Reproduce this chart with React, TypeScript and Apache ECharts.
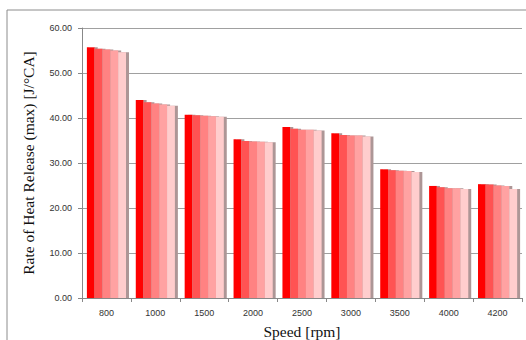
import React, { useEffect, useRef } from "react";
import * as echarts from "echarts";

const categories = ["800", "1000", "1500", "2000", "2500", "3000", "3500", "4000", "4200"];
const series1 = [55.7, 44.0, 40.7, 35.3, 38.0, 36.6, 28.6, 24.9, 25.3];
const series2 = [55.4, 43.5, 40.6, 34.9, 37.6, 36.2, 28.4, 24.6, 25.2];
const series3 = [55.2, 43.2, 40.5, 34.8, 37.4, 36.1, 28.3, 24.4, 25.0];
const series4 = [55.0, 43.0, 40.4, 34.7, 37.4, 36.1, 28.2, 24.4, 24.9];
const series5 = [54.6, 42.7, 40.3, 34.6, 37.2, 35.9, 28.0, 24.2, 24.2];
const allSeries = [series1, series2, series3, series4, series5];
const colors = ["#FF0000", "#FF5252", "#FF8282", "#FFA2A2", "#FFCDCD"];

export default function App() {
  const ref = useRef<HTMLDivElement>(null);
  useEffect(() => {
    if (!ref.current) return;
    const chart = echarts.init(ref.current, undefined, { renderer: "svg" });
    chart.setOption({
      animation: false,
      backgroundColor: "#ffffff",
      grid: { left: 82, top: 28, right: 4, bottom: 42, outerBoundsMode: "none", containLabel: false },
      graphic: [
        {
          type: "rect",
          shape: { x: 7, y: 10, width: 540, height: 350 },
          style: { fill: "none", stroke: "#8c8c8c", lineWidth: 1 },
          silent: true,
        },
      ],
      xAxis: {
        type: "category",
        data: categories,
        name: "Speed [rpm]",
        nameLocation: "middle",
        nameGap: 25,
        nameTextStyle: { fontFamily: "Liberation Serif", fontSize: 15.5, color: "#111" },
        axisLine: { lineStyle: { color: "#888" } },
        axisTick: { show: true, length: 4, lineStyle: { color: "#888" } },
        axisLabel: { fontFamily: "Liberation Sans", fontSize: 9, color: "#333", margin: 10 },
      },
      yAxis: {
        type: "value",
        min: 0,
        max: 60,
        interval: 10,
        name: "Rate of Heat Release (max) [J/°CA]",
        nameLocation: "middle",
        nameGap: 46,
        nameTextStyle: { fontFamily: "Liberation Serif", fontSize: 15.5, color: "#111" },
        axisLine: { show: true, lineStyle: { color: "#888" } },
        axisTick: { show: true, length: 4, lineStyle: { color: "#888" } },
        axisLabel: {
          fontFamily: "Liberation Sans",
          fontSize: 9,
          color: "#333",
          margin: 10,
          formatter: (v: number) => v.toFixed(2),
        },
        splitLine: { lineStyle: { color: "#a0a0a0" } },
      },
      series: allSeries.map((d, i) => ({
        type: "bar",
        data: d,
        barGap: "0%",
        barCategoryGap: "20%",
        itemStyle: {
          color: colors[i],
          shadowColor: "#ad9696",
          shadowBlur: 0,
          shadowOffsetX: 3,
          shadowOffsetY: 0,
        },
      })),
    });
    return () => chart.dispose();
  }, []);
  return (
    <div
      ref={ref}
      style={{ position: "fixed", left: 0, top: 0, width: 526, height: 340 }}
    />
  );
}
